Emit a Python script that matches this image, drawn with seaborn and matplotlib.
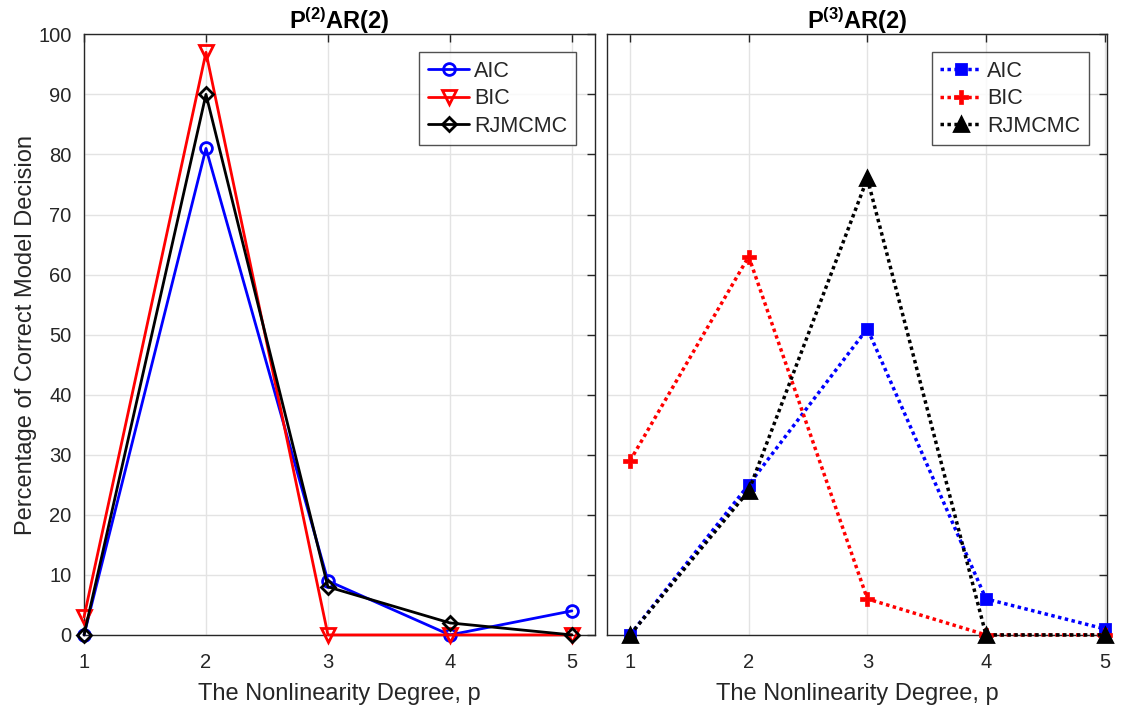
import matplotlib
matplotlib.use("Agg")
import matplotlib.pyplot as plt
import seaborn as sns
import pandas as pd

# Nonlinearity degree p and percentage of correct model decisions
degrees = [1, 2, 3, 4, 5]

p2_aic = [0, 81, 9, 0, 4]
p2_bic = [3, 97, 0, 0, 0]
p2_rjmcmc = [0, 90, 8, 2, 0]

p3_aic = [0, 25, 51, 6, 1]
p3_bic = [29, 63, 6, 0, 0]
p3_rjmcmc = [0, 24, 76, 0, 0]

methods = ["AIC", "BIC", "RJMCMC"]
titles = [r"$\mathbf{P^{(2)}AR(2)}$", r"$\mathbf{P^{(3)}AR(2)}$"]
y_ticks = list(range(0, 101, 10))
x_ticks = [1, 2, 3, 4, 5]

sns.set_theme(style="white")
plt.rcParams["font.family"] = ["Liberation Sans", "DejaVu Sans"]
plt.rcParams["mathtext.fontset"] = "custom"
plt.rcParams["mathtext.rm"] = "Liberation Sans"
plt.rcParams["mathtext.bf"] = "Liberation Sans:bold"

axis_gray = "#262626"
grid_gray = "#e3e3e3"

fig = plt.figure(figsize=(11.25, 7.15), dpi=100)
ax1 = fig.add_axes([0.0747, 0.112, 0.4542, 0.840])
ax2 = fig.add_axes([0.5396, 0.112, 0.4444, 0.840])

blue, red, black = "#0000ff", "#ff0000", "#000000"

left_styles = [
    dict(color=blue, marker="o", markersize=8.5, markerfacecolor="none",
         markeredgecolor=blue),
    dict(color=red, marker="v", markersize=10, markerfacecolor="none",
         markeredgecolor=red),
    dict(color=black, marker="D", markersize=7.5, markerfacecolor="none",
         markeredgecolor=black),
]
right_styles = [
    dict(color=blue, marker="s", markersize=6.5, markerfacecolor=blue,
         markeredgecolor=blue),
    dict(color=red, marker="P", markersize=10, markerfacecolor=red,
         markeredgecolor=red, markeredgewidth=0.5),
    dict(color=black, marker="^", markersize=9.5, markerfacecolor=black,
         markeredgecolor=black),
]

group = sum([[m] * len(degrees) for m in methods], [])
left_data = pd.DataFrame({"p": degrees * 3,
                          "pct": p2_aic + p2_bic + p2_rjmcmc,
                          "method": group})
right_data = pd.DataFrame({"p": degrees * 3,
                           "pct": p3_aic + p3_bic + p3_rjmcmc,
                           "method": group})

for m, st in zip(methods, left_styles):
    sub = left_data[left_data["method"] == m]
    kw = dict(markeredgewidth=2.0)
    kw.update(st)
    sns.lineplot(data=sub, x="p", y="pct", ax=ax1, label=m, linewidth=2.0,
                 clip_on=False, zorder=3, **kw)

for m, st in zip(methods, right_styles):
    sub = right_data[right_data["method"] == m]
    kw = dict(markeredgewidth=2.0)
    kw.update(st)
    sns.lineplot(data=sub, x="p", y="pct", ax=ax2, label=m, linewidth=2.5,
                 linestyle=(0, (1, 1)), clip_on=False, zorder=3, **kw)

for ax, title, xlim in [(ax1, titles[0], (1, 5.19)),
                        (ax2, titles[1], (0.806, 5.02))]:
    ax.set_xlim(*xlim)
    ax.set_ylim(0, 100)
    ax.set_xticks(x_ticks)
    ax.set_yticks(y_ticks)
    ax.grid(True, color=grid_gray, linewidth=1.0)
    ax.set_axisbelow(True)
    ax.tick_params(direction="in", length=6, width=1, colors=axis_gray,
                   labelsize=14.5, top=True, right=True, pad=9,
                   labelcolor=axis_gray)
    ax.tick_params(axis="x", pad=13)
    for sp in ax.spines.values():
        sp.set_color(axis_gray)
        sp.set_linewidth(1.0)
        sp.set_visible(True)
    ax.set_title(title, fontsize=17, fontweight="bold", color="black", pad=4)
    ax.set_xlabel("The Nonlinearity Degree, p", fontsize=17, color=axis_gray,
                  labelpad=8)
    leg = ax.legend(loc="upper right", bbox_to_anchor=(0.963, 0.97),
                    fontsize=15.5, frameon=True, fancybox=False,
                    edgecolor=axis_gray, handlelength=1.9, handletextpad=0.25,
                    borderpad=0.4, labelspacing=0.3, borderaxespad=0.0)
    leg.get_frame().set_linewidth(1.0)

ax1.set_ylabel("Percentage of Correct Model Decision", fontsize=17,
               color=axis_gray, labelpad=1)
ax2.set_ylabel("")
ax2.tick_params(labelleft=False)

fig.savefig("out.png", dpi=100)
